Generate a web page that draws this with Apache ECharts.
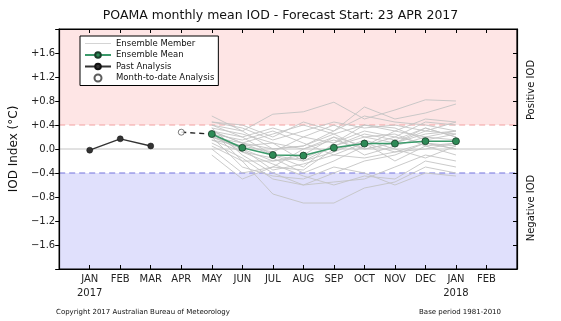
<!DOCTYPE html>
<html><head><meta charset="utf-8">
<script src="https://cdn.jsdelivr.net/npm/echarts@6/dist/echarts.min.js"></script>
<style>html,body{margin:0;padding:0;background:#fff}#c{width:561px;height:321px}</style>
</head><body><div id="c"></div>
<script>
var tickLabels = ['JAN\n2017','FEB','MAR','APR','MAY','JUN','JUL','AUG','SEP','OCT','NOV','DEC','JAN\n2018','FEB'];
var pastX = [0, 1, 2];
var pastVals = [-0.02, 0.17, 0.05];
var mtdX = [3];
var mtdVals = [0.28];
var fcX = [4, 5, 6, 7, 8, 9, 10, 11, 12];
var meanVals = [0.25, 0.02, -0.10, -0.11, 0.02, 0.09, 0.09, 0.13, 0.13];
var members = [
 [0.55, 0.30, 0.58, 0.62, 0.78, 0.50, 0.65, 0.82, 0.80],
 [0.45, 0.40, 0.20, 0.45, 0.30, 0.70, 0.50, 0.60, 0.75],
 [0.40, 0.20, -0.10, -0.30, 0.10, 0.30, 0.20, 0.45, 0.40],
 [0.35, -0.10, -0.40, -0.60, -0.40, -0.20, -0.10, 0.10, 0.00],
 [0.30, 0.10, 0.00, 0.05, 0.25, 0.40, 0.30, 0.20, 0.30],
 [0.30, -0.20, -0.75, -0.90, -0.90, -0.65, -0.55, -0.30, -0.40],
 [0.25, 0.00, -0.20, -0.10, 0.20, 0.05, 0.30, 0.50, 0.45],
 [0.25, 0.15, 0.30, 0.10, -0.10, 0.10, -0.05, 0.00, 0.10],
 [0.20, -0.30, -0.45, -0.50, -0.30, -0.40, -0.60, -0.40, -0.45],
 [0.20, 0.05, -0.05, 0.20, 0.40, 0.20, 0.10, 0.30, 0.25],
 [0.15, -0.05, -0.15, -0.40, -0.20, 0.05, 0.20, 0.10, 0.00],
 [0.35, 0.25, 0.10, -0.20, 0.05, 0.25, 0.15, 0.35, 0.20],
 [0.10, -0.15, -0.50, -0.60, -0.55, -0.50, -0.30, -0.10, -0.20],
 [0.00, -0.40, -0.30, 0.00, 0.15, 0.00, 0.10, 0.25, 0.30],
 [0.45, 0.35, 0.15, 0.30, 0.45, 0.35, 0.40, 0.30, 0.45],
 [0.20, 0.10, -0.10, -0.20, -0.05, 0.15, 0.00, -0.15, 0.05],
 [-0.10, -0.50, -0.30, -0.35, 0.00, 0.10, -0.20, 0.05, -0.10],
 [0.30, 0.20, 0.35, 0.20, 0.10, 0.40, 0.35, 0.15, 0.25],
 [0.25, -0.05, -0.25, -0.45, -0.60, -0.45, -0.50, -0.20, -0.30],
 [0.15, 0.05, 0.10, 0.00, 0.20, -0.10, 0.05, 0.20, 0.15],
 [0.40, 0.30, 0.00, 0.05, 0.30, 0.55, 0.45, 0.40, 0.30],
 [0.05, -0.20, -0.20, -0.15, 0.05, 0.20, 0.25, 0.05, 0.10],
 [0.30, 0.10, 0.25, 0.40, 0.25, 0.00, 0.10, 0.35, 0.20],
 [0.20, 0.00, -0.35, -0.25, -0.10, -0.15, -0.05, 0.10, 0.05]
];
var refLines = [0, 0.4, -0.4];
var xRange = [-1, 14];

function pairs(xs, ys){ return xs.map(function(x,i){return [x, ys[i]];}); }
var FONT = 'DejaVu Sans';
var series = [];
series.push({
  type:'line', data:[], silent:true, z:1,
  markArea:{silent:true, data:[
    [{yAxis:0.4, itemStyle:{color:'#fee5e5'}},{yAxis:2}],
    [{yAxis:-2, itemStyle:{color:'#e0e0fc'}},{yAxis:-0.4}]
  ]}
});
var refStyles = [
  {color:'#c4c4c4', type:'solid', width:1},
  {color:'#f2a0a0', type:[6,4], width:1.2},
  {color:'#7272dc', type:[6,4], width:1.2}
];
refLines.forEach(function(v, i){
  series.push({type:'line', data:[[xRange[0], v],[xRange[1], v]], symbol:'none', silent:true, z:2,
    lineStyle:refStyles[i]});
});
members.forEach(function(m){
  series.push({name:'Ensemble Member', type:'line', data:pairs(fcX, m), symbol:'none', silent:true, z:3,
    lineStyle:{color:'#c4c4c4', width:0.9}, itemStyle:{color:'#d0d0d0'}});
});
series.push({name:'Ensemble Mean', type:'line', data:pairs(fcX, meanVals), z:5,
  symbol:'circle', symbolSize:7, lineStyle:{color:'#3a9a6a', width:1.5},
  itemStyle:{color:'#2e8b57', borderColor:'#1a3d2a', borderWidth:0.8}});
series.push({name:'Past Analysis', type:'line', data:pairs(pastX, pastVals), z:5,
  symbol:'circle', symbolSize:6, lineStyle:{color:'#333', width:1.3},
  itemStyle:{color:'#333', borderColor:'#111', borderWidth:0.5}});
series.push({type:'line', data:[[mtdX[0], mtdVals[0]],[fcX[0], meanVals[0]]], z:4, symbol:'none', silent:true,
  lineStyle:{color:'#222', width:1.3, type:[5,4]}});
series.push({name:'Month-to-date Analysis', type:'scatter', data:pairs(mtdX, mtdVals), z:6,
  symbol:'circle', symbolSize:6, itemStyle:{color:'#fff', borderColor:'#333', borderWidth:0.8}});

var axisLineStyle = {show:true, onZero:false, lineStyle:{color:'#000', width:1.2}};
var chart = echarts.init(document.getElementById('c'), null, {renderer:'canvas'});
chart.setOption({
  animation:false,
  textStyle:{fontFamily:FONT},
  title:{text:'POAMA monthly mean IOD - Forecast Start: 23 APR 2017', left:'center', top:4,
    textStyle:{fontFamily:FONT, fontSize:12.5, fontWeight:'normal', color:'#111'}},
  grid:{left:56, right:44, top:29, bottom:52, show:true, z:10, borderColor:'#000', borderWidth:1.2, backgroundColor:'transparent'},
  legend:{left:80, top:36, orient:'vertical', itemGap:2.5, itemWidth:26, itemHeight:7, z:20,
    padding:[3,4,3,4], borderColor:'#000', borderWidth:1, backgroundColor:'#fff',
    textStyle:{fontFamily:FONT, fontSize:8.5, color:'#111'},
    data:[{name:'Ensemble Member', icon:'path://M0,0 L26,0 L26,1 L0,1 Z', itemStyle:{color:'#d4d4d4'}},
      'Ensemble Mean','Past Analysis','Month-to-date Analysis']},
  xAxis:[{type:'value', min:xRange[0], max:xRange[1], interval:1, position:'bottom', z:10,
    axisLine:axisLineStyle, splitLine:{show:false},
    axisTick:{show:true, inside:true, length:4, lineStyle:{color:'#000'}},
    axisLabel:{fontFamily:FONT, fontSize:10, color:'#222', lineHeight:14, margin:3,
      formatter:function(v){ var i=Math.round(v); return (i>=0 && i<tickLabels.length)? tickLabels[i] : ''; }}},
    {type:'value', min:xRange[0], max:xRange[1], interval:1, position:'top', z:10,
    axisLine:axisLineStyle, splitLine:{show:false},
    axisTick:{show:true, inside:true, length:4, lineStyle:{color:'#000'}}, axisLabel:{show:false}}],
  yAxis:[{type:'value', min:-2, max:2, interval:0.4, position:'left', z:10,
    name:'IOD Index (°C)', nameLocation:'middle', nameGap:32,
    nameTextStyle:{fontFamily:FONT, fontSize:12, color:'#111'},
    axisLine:axisLineStyle, splitLine:{show:false},
    axisTick:{show:true, inside:false, length:4, lineStyle:{color:'#000'}},
    axisLabel:{fontFamily:FONT, fontSize:10, color:'#222', margin:4,
      formatter:function(v){ var r=Math.round(v*10)/10; if(Math.abs(r)>=1.95) return ''; if(Math.abs(r)<0.01) return '0.0';
        return (r>0?'+':'\u2212')+Math.abs(r).toFixed(1); }}},
    {type:'value', min:-2, max:2, interval:0.4, position:'right', z:10,
    axisLine:axisLineStyle, splitLine:{show:false},
    axisTick:{show:true, inside:true, length:4, lineStyle:{color:'#000'}}, axisLabel:{show:false}}],
  graphic:[
    {type:'text', x:531, y:90, rotation:Math.PI/2, style:{text:'Positive IOD', fontFamily:FONT, fontSize:10, fill:'#111', align:'center', verticalAlign:'middle'}},
    {type:'text', x:531, y:208, rotation:Math.PI/2, style:{text:'Negative IOD', fontFamily:FONT, fontSize:10, fill:'#111', align:'center', verticalAlign:'middle'}},
    {type:'text', x:56, y:312, style:{text:'Copyright 2017 Australian Bureau of Meteorology', fontFamily:FONT, fontSize:7, fill:'#111', verticalAlign:'middle'}},
    {type:'text', x:501, y:312, style:{text:'Base period 1981-2010', fontFamily:FONT, fontSize:7, fill:'#111', align:'right', verticalAlign:'middle'}}
  ],
  series:series
});
</script></body></html>
